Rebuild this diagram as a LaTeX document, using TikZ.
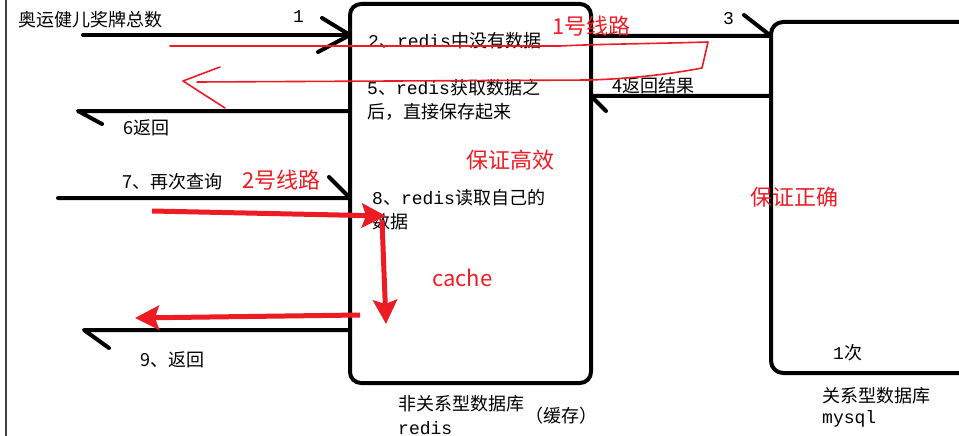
\documentclass[tikz,border=0pt]{standalone}
\usepackage{fontspec}
\setmainfont{Noto Sans CJK SC}
\newfontfamily\mono{Liberation Mono}
\usepackage{tikz}
\usetikzlibrary{arrows,arrows.meta,positioning}
\definecolor{penred}{RGB}{237,28,36}

\begin{document}
\begin{tikzpicture}[line cap=round,line join=round,x=1pt,y=-1pt,
  wire/.style={line width=4pt},
  dbbox/.style={draw,line width=4pt,rounded corners=11pt,outer sep=0pt,inner sep=0pt},
  txt/.style={inner sep=0pt,anchor=west,font=\fontsize{18}{21}\selectfont},
  redtxt/.style={inner sep=0pt,anchor=west,text=penred,font=\fontsize{22}{26}\selectfont},
  pen/.style={draw=penred,line width=1.6pt},
  fat/.style={draw=penred,line width=5pt,line cap=butt,-{Stealth[length=24pt,width=24pt,inset=4pt]}}]
\useasboundingbox (0,0) rectangle (959,436);
\clip(0,0) rectangle (959,436);
\draw[line width=1.5pt,black!75] (6,0)-- (6,436);
% the two stores
\node[dbbox,minimum width=241pt,minimum height=379pt] (redis) at (470.5,193.5) {};
\coordinate (mysql) at (771,200);
\coordinate (mytop) at (962,22);
\coordinate (mybot) at (962,373);
\draw[wire,rounded corners=12pt] (mytop)-- (mysql |- mytop)-- (mysql |- mybot)-- (mybot);
% query in, step 1
\coordinate (in1) at (83,35);
\draw[wire] (in1)-- (redis.west |- in1);
\draw[wire] (redis.west |- in1) ++(-28,-17)-- ++(28,17)-- ++(-32,17);
% back out, step 6
\coordinate (out6) at (78,111);
\draw[wire] (redis.west |- out6)-- (out6)-- ++(24,13);
% second query, step 7
\coordinate (in7) at (58,198);
\draw[wire] (in7)-- (redis.west |- in7)-- ++(-21,-21);
% back out, step 9
\coordinate (out9) at (84,330);
\draw[wire] (redis.west |- out9)-- (out9)-- ++(25,18);
% redis to mysql, step 3
\coordinate (to3) at (592,36);
\draw[wire] (redis.east |- to3)-- (mysql |- to3)-- ++(-27,-21);
% mysql to redis, step 4
\coordinate (back4) at (592,96);
\draw[wire] (mysql |- back4)-- (redis.east |- back4)-- ++(15,15);
% texts
\node[txt] (title) at (18,20) {奥运健儿奖牌总数};
\node[txt] (n1) at (293,17) {\mono 1};
\node[txt] (n6) at (123,128) {6返回};
\node[txt] (n7) at (122,182) {7、再次查询};
\node[txt] (n9) at (140,360) {9、返回};
\node[txt] (n3) at (723,19) {\mono 3};
\node[txt] (n4) at (612,86) {4返回结果};
\node[txt] (n2) at (368,41) {{\mono 2}、{\mono redis}中没有数据};
\node[txt] (n5) at (367,88) {{\mono 5}、{\mono redis}获取数据之};
\node[txt] (n5b) at (367,112) {后，直接保存起来};
\node[txt] (n8) at (372,198) {{\mono 8}、{\mono redis}读取自己的};
\node[txt] (n8b) at (372,222) {数据};
\node[txt] (once) at (833,353) {{\mono 1}次};
\node[txt] (nosql) at (398,404) {非关系型数据库};
\node[txt] (nosqlb) at (398,428) {\mono redis};
\node[inner sep=0pt,font=\fontsize{18}{21}\selectfont] (cachenote) at (561,416) {（缓存）};
\node[txt] (sql) at (822,396) {关系型数据库};
\node[txt] (sqlb) at (822,419) {\mono mysql};
% red notes
\node[redtxt] (route1) at (552,26) {1号线路};
\node[redtxt] (route2) at (242,180) {2号线路};
\node[redtxt] (fast) at (466,160) {保证高效};
\node[redtxt] (right) at (750,197) {保证正确};
\node[redtxt] (cache) at (432,278) {cache};
% route 1, by hand
\draw[pen] (170,46)-- (560,46) .. controls (600,44) and (640,44) .. (708,42)-- (702,68) .. controls (660,76) and (620,79) .. (590,80)-- (197,82);
\draw[pen] (220,67)-- (183,81)-- (225,108);
% route 2
\coordinate (r1) at (152,211);
\coordinate (r2) at (386,216);
\coordinate (r3) at (382,220);
\coordinate (r4) at (386,324);
\coordinate (r5) at (360,315);
\coordinate (r6) at (135,318);
\draw[fat] (r1)-- (r2);
\draw[fat] (r3)-- (r4);
\draw[fat] (r5)-- (r6);
\end{tikzpicture}
\end{document}
